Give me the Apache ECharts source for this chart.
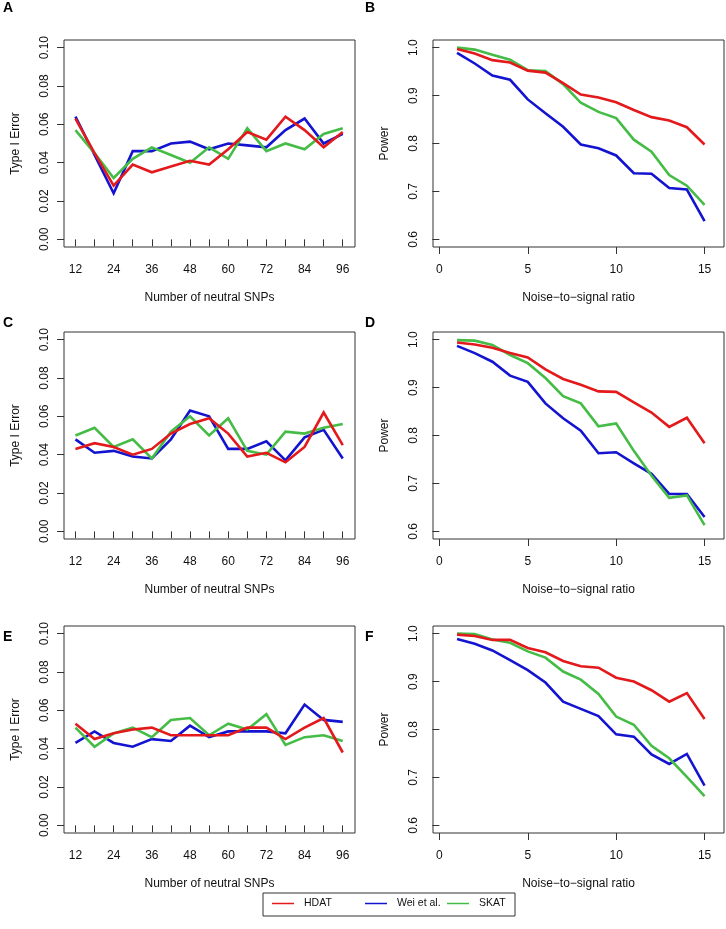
<!DOCTYPE html>
<html>
<head>
<meta charset="utf-8">
<script src="https://cdn.jsdelivr.net/npm/echarts@6/dist/echarts.min.js"></script>
<style>
html,body{margin:0;padding:0;background:#fff;}
#chart{width:726px;height:929px;}
</style>
</head>
<body>
<div id="chart"></div>
<script>
// ---- categories / x values ----
const snpX = [12, 18, 24, 30, 36, 42, 48, 54, 60, 66, 72, 78, 84, 90, 96];
const nsrX = [1, 2, 3, 4, 5, 6, 7, 8, 9, 10, 11, 12, 13, 14, 15];

// ---- tick labels ----
const snpTicks = [12, 18, 24, 30, 36, 42, 48, 54, 60, 66, 72, 78, 84, 90, 96];
const snpLabels = [12, 24, 36, 48, 60, 72, 84, 96];
const nsrTicks = [0, 5, 10, 15];
const errTicks = [0, 0.02, 0.04, 0.06, 0.08, 0.10];
const powTicks = [0.6, 0.7, 0.8, 0.9, 1.0];

// ---- series names ----
const seriesNames = ['HDAT', 'Wei et al.', 'SKAT'];

// ---- Panel A (Type I error) ----
const hdatA = [0.063, 0.045, 0.028, 0.039, 0.035, 0.038, 0.041, 0.039, 0.047, 0.056, 0.052, 0.064, 0.057, 0.048, 0.056];
const weiA  = [0.064, 0.044, 0.024, 0.046, 0.046, 0.050, 0.051, 0.047, 0.050, 0.049, 0.048, 0.057, 0.063, 0.050, 0.055];
const skatA = [0.057, 0.045, 0.032, 0.042, 0.048, 0.044, 0.040, 0.048, 0.042, 0.058, 0.046, 0.050, 0.047, 0.055, 0.058];

// ---- Panel B (Power) ----
const hdatB = [0.997, 0.988, 0.974, 0.969, 0.952, 0.948, 0.926, 0.902, 0.896, 0.886, 0.870, 0.855, 0.848, 0.834, 0.798];
const weiB  = [0.989, 0.967, 0.942, 0.933, 0.892, 0.863, 0.835, 0.798, 0.790, 0.775, 0.738, 0.737, 0.707, 0.704, 0.638];
const skatB = [1.000, 0.996, 0.985, 0.975, 0.953, 0.951, 0.924, 0.885, 0.866, 0.853, 0.808, 0.783, 0.734, 0.712, 0.672];

// ---- Panel C (Type I error) ----
const hdatC = [0.043, 0.046, 0.044, 0.040, 0.043, 0.051, 0.056, 0.059, 0.051, 0.039, 0.041, 0.036, 0.044, 0.062, 0.045];
const weiC  = [0.048, 0.041, 0.042, 0.039, 0.038, 0.048, 0.063, 0.060, 0.043, 0.043, 0.047, 0.037, 0.049, 0.053, 0.038];
const skatC = [0.050, 0.054, 0.044, 0.048, 0.038, 0.052, 0.060, 0.050, 0.059, 0.042, 0.040, 0.052, 0.051, 0.054, 0.056];

// ---- Panel D (Power) ----
const hdatD = [0.994, 0.990, 0.983, 0.972, 0.963, 0.938, 0.918, 0.906, 0.892, 0.891, 0.869, 0.848, 0.818, 0.837, 0.784];
const weiD  = [0.987, 0.972, 0.954, 0.925, 0.912, 0.867, 0.836, 0.810, 0.763, 0.765, 0.742, 0.720, 0.678, 0.678, 0.630];
const skatD = [0.999, 0.998, 0.989, 0.968, 0.951, 0.920, 0.882, 0.867, 0.819, 0.825, 0.768, 0.716, 0.670, 0.675, 0.613];

// ---- Panel E (Type I error) ----
const hdatE = [0.053, 0.045, 0.048, 0.050, 0.051, 0.047, 0.047, 0.047, 0.047, 0.051, 0.051, 0.045, 0.051, 0.056, 0.038];
const weiE  = [0.043, 0.049, 0.043, 0.041, 0.045, 0.044, 0.052, 0.046, 0.049, 0.049, 0.049, 0.048, 0.063, 0.055, 0.054];
const skatE = [0.051, 0.041, 0.048, 0.051, 0.046, 0.055, 0.056, 0.047, 0.053, 0.050, 0.058, 0.042, 0.046, 0.047, 0.044];

// ---- Panel F (Power) ----
const hdatF = [0.998, 0.995, 0.987, 0.987, 0.970, 0.961, 0.943, 0.932, 0.929, 0.908, 0.900, 0.882, 0.858, 0.876, 0.822];
const weiF  = [0.989, 0.979, 0.965, 0.945, 0.924, 0.898, 0.858, 0.843, 0.828, 0.790, 0.785, 0.748, 0.728, 0.749, 0.683];
const skatF = [1.000, 0.999, 0.988, 0.981, 0.963, 0.950, 0.921, 0.904, 0.874, 0.827, 0.810, 0.766, 0.740, 0.701, 0.661];

// ---- styling / layout ----
const FONT = '"Liberation Sans", Arial, Helvetica, sans-serif';
const COLORS = {'HDAT': '#E3191C', 'Wei et al.': '#1414D0', 'SKAT': '#45BC45'};
const rowTops = [40, 332, 626];
const PANEL_H = 207;
const LEFT_X = 64, RIGHT_X = 433, PANEL_W = 291;

const panels = [
  {letter: 'A', type: 'err', row: 0, col: 0, h: hdatA, w: weiA, s: skatA, letterTop: 1},
  {letter: 'B', type: 'pow', row: 0, col: 1, h: hdatB, w: weiB, s: skatB, letterTop: 1},
  {letter: 'C', type: 'err', row: 1, col: 0, h: hdatC, w: weiC, s: skatC, letterTop: 316},
  {letter: 'D', type: 'pow', row: 1, col: 1, h: hdatD, w: weiD, s: skatD, letterTop: 316},
  {letter: 'E', type: 'err', row: 2, col: 0, h: hdatE, w: weiE, s: skatE, letterTop: 630},
  {letter: 'F', type: 'pow', row: 2, col: 1, h: hdatF, w: weiF, s: skatF, letterTop: 630}
];

const grid = [], xAxis = [], yAxis = [], series = [], title = [];
panels.forEach((p, i) => {
  const isErr = p.type === 'err';
  grid.push({
    left: p.col === 0 ? LEFT_X : RIGHT_X,
    top: rowTops[p.row],
    width: PANEL_W,
    height: PANEL_H,
    show: true,
    borderColor: '#333',
    borderWidth: 1,
    backgroundColor: 'transparent',
    containLabel: false
  });
  xAxis.push({
    type: 'value',
    gridIndex: i,
    min: isErr ? 8.4 : -0.36,
    max: isErr ? 99.85 : 16.1,
    axisLine: {show: false},
    splitLine: {show: false},
    axisTick: {show: true, length: 7, lineStyle: {color: '#333', width: 1},
      customValues: isErr ? snpTicks : nsrTicks},
    axisLabel: {show: true, margin: 17, fontSize: 12, color: '#111', fontFamily: FONT,
      customValues: isErr ? snpLabels : nsrTicks},
    name: isErr ? 'Number of neutral SNPs' : 'Noise\u2212to\u2212signal ratio',
    nameLocation: 'middle',
    nameGap: 45,
    nameTextStyle: {fontSize: 12, color: '#111', fontFamily: FONT}
  });
  yAxis.push({
    type: 'value',
    gridIndex: i,
    min: isErr ? -0.004 : 0.584,
    max: isErr ? 0.104 : 1.016,
    axisLine: {show: false},
    splitLine: {show: false},
    axisTick: {show: true, length: 7, lineStyle: {color: '#333', width: 1},
      customValues: isErr ? errTicks : powTicks},
    axisLabel: {show: true, margin: 13, fontSize: 12, color: '#111', fontFamily: FONT, rotate: 90,
      customValues: isErr ? errTicks : powTicks,
      formatter: v => isErr ? Number(v).toFixed(2) : Number(v).toFixed(1)},
    name: isErr ? 'Type I Error' : 'Power',
    nameLocation: 'middle',
    nameGap: 42,
    nameTextStyle: {fontSize: 12, color: '#111', fontFamily: FONT}
  });
  const xs = isErr ? snpX : nsrX;
  const list = [['Wei et al.', p.w], ['SKAT', p.s], ['HDAT', p.h]];
  list.forEach(([name, vals]) => {
    series.push({
      type: 'line',
      name: name,
      xAxisIndex: i,
      yAxisIndex: i,
      data: xs.map((x, k) => [x, vals[k]]),
      showSymbol: false,
      symbol: 'none',
      lineStyle: {color: COLORS[name], width: 2.6, join: 'miter'},
      itemStyle: {color: COLORS[name]},
      animation: false,
      silent: true
    });
  });
  title.push({
    text: p.letter,
    left: p.col === 0 ? 3 : 365,
    top: p.letterTop,
    padding: 0,
    textStyle: {fontSize: 14, fontWeight: 'bold', color: '#000', fontFamily: FONT}
  });
});

const legendLefts = [272, 365, 447];
const legend = seriesNames.map((n, k) => ({
  data: [n],
  left: legendLefts[k],
  top: 898,
  orient: 'horizontal',
  icon: 'rect',
  itemWidth: 22,
  itemHeight: 1.5,
  padding: 0,
  selectedMode: false,
  textStyle: {fontSize: 10.5, color: '#111', fontFamily: FONT, padding: [0, 0, 0, 5]}
}));

const chart = echarts.init(document.getElementById('chart'), null, {renderer: 'canvas'});
chart.setOption({
  backgroundColor: '#fff',
  animation: false,
  title: title,
  grid: grid,
  xAxis: xAxis,
  yAxis: yAxis,
  legend: legend,
  series: series,
  graphic: [{
    type: 'rect',
    shape: {x: 263, y: 893, width: 252, height: 23},
    style: {fill: 'none', stroke: '#333', lineWidth: 1},
    silent: true
  }]
});
</script>
</body>
</html>
